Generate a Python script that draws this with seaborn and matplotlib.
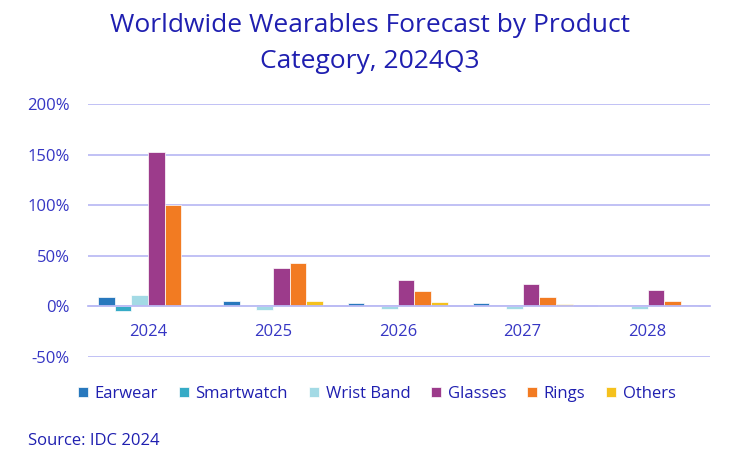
import matplotlib
matplotlib.use("Agg")
import matplotlib.pyplot as plt
import pandas as pd
import seaborn as sns

years = ['2024', '2025', '2026', '2027', '2028']
categories = ['Earwear', 'Smartwatch', 'Wrist Band', 'Glasses', 'Rings', 'Others']
earwear = [9.5, 5, 3, 3, 1.5]
smartwatch = [-4.5, 1.5, 0, 0, 0]
wrist_band = [11, -4, -3, -3, -2.5]
glasses = [153, 38, 26, 22, 16]
rings = [100, 43, 15, 9, 5]
others = [0, 5, 4, 2.5, 0.5]
colors = ['#2878bd', '#36abc6', '#a3dae5', '#9c3b8b', '#f27b22', '#f5c11d']

title_color = '#1f1fb0'
text_color = '#3636c4'
grid_color = '#bcbcf4'

# long-format table for seaborn
series = [earwear, smartwatch, wrist_band, glasses, rings, others]
rows = []
for cat, vals in zip(categories, series):
    for yr, v in zip(years, vals):
        rows.append({'Year': yr, 'Category': cat, 'Growth': v})
df = pd.DataFrame(rows)

sns.set_style('white')
plt.rcParams['font.family'] = ['Open Sans', 'DejaVu Sans']

fig = plt.figure(figsize=(7.4, 4.65), dpi=100)
ax = fig.add_axes([88 / 740, 1 - 357 / 465, 622 / 740, 253 / 465])

sns.barplot(data=df, x='Year', y='Growth', hue='Category', order=years,
            hue_order=categories, palette=colors, saturation=1, width=0.8,
            edgecolor='white', linewidth=0.5, ax=ax, legend=True)

ax.set_ylim(-50, 200)
ax.set_xlim(-0.48, 4.5)
ax.set_yticks([-50, 0, 50, 100, 150, 200])
ax.set_yticklabels(['-50%', '0%', '50%', '100%', '150%', '200%'])
ax.yaxis.grid(True, color=grid_color, linewidth=1.3)
ax.set_axisbelow(True)
for s in ['top', 'right', 'left']:
    ax.spines[s].set_visible(False)
ax.spines['bottom'].set_position(('data', 0))
ax.spines['bottom'].set_color(grid_color)
ax.spines['bottom'].set_linewidth(1.3)
ax.tick_params(axis='both', length=0, labelsize=12, labelcolor=text_color)
ax.tick_params(axis='y', pad=13)
ax.tick_params(axis='x', pad=13)
ax.set_xlabel('')
ax.set_ylabel('')

fig.text(0.5, 0.972, 'Worldwide Wearables Forecast by Product\nCategory, 2024Q3',
         ha='center', va='top', fontsize=19, color=title_color, linespacing=1.6)

handles, labels = ax.get_legend_handles_labels()
ax.legend_.remove()
fig.legend(handles, labels, loc='center left', bbox_to_anchor=(63 / 740, 1 - 394 / 465),
           ncol=6, frameon=False, fontsize=12, labelcolor=title_color,
           handlelength=0.6, handleheight=0.6, handletextpad=0.4, columnspacing=1.25)

fig.text(28 / 740, 1 - 441 / 465, 'Source: IDC 2024', ha='left', va='center',
         fontsize=12, color=title_color)

fig.savefig('out.png', dpi=100)
